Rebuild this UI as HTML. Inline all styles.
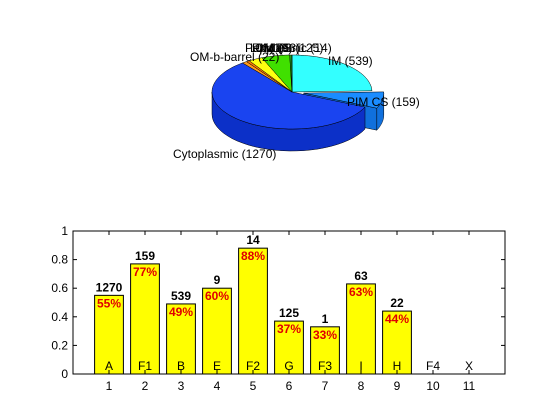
<!DOCTYPE html>
<html><head><meta charset="utf-8"><style>
body{margin:0;background:#fff;width:560px;height:420px;overflow:hidden}
svg{display:block;font-family:"Liberation Sans",sans-serif}
</style></head><body>
<svg id="s" width="560" height="420">
<rect width="560" height="420" fill="#fff"/>
<g id="pie"></g>
<g id="bars"></g>
</svg>
<script>
const pieLabels=["IM (539)","PIM CS (159)","Cytoplasmic (1270)","OM-b-barrel (22)","Periplasmic (14)","Lipid (63)","PIM FS (125)","OM (9)","X (1)"];
const pieValues=[539,159,1270,22,14,63,125,9,1];
const pieColors=["#33ffff","#1a8cff","#1a44f0","#ff9a1a","#ff7a00","#ffff10","#40e000","#20a020","#108010"];
const pieSide=["#22cccc","#1070dd","#0c30c8","#cc7a10","#cc6000","#cccc00","#30b000","#188018","#086008"];
const explode=[0,1,0,0,0,0,0,0,0];

const categories=["A","F1","B","E","F2","G","F3","I","H","F4","X"];
const barValues=[0.55,0.77,0.49,0.60,0.88,0.37,0.33,0.63,0.44,0,0];
const counts=["1270","159","539","9","14","125","1","63","22","",""];
const pctLabels=["55%","77%","49%","60%","88%","37%","33%","63%","44%","",""];
const yTicks=[0,0.2,0.4,0.6,0.8,1];
const yTickLabels=["0","0.2","0.4","0.6","0.8","1"];
const xTicks=[1,2,3,4,5,6,7,8,9,10,11];

const NS="http://www.w3.org/2000/svg";
function mk(t,a,p){const e=document.createElementNS(NS,t);for(const k in a)e.setAttribute(k,a[k]);p.appendChild(e);return e;}

// PIE
const pie=document.getElementById('pie');
const cx=292,cy=92,rx=80,ry=37,dep=22;
const total=pieValues.reduce((a,b)=>a+b,0);
const R=Math.PI/180;
function pt(a,ox,oy,dy){return [cx+ox+rx*Math.cos(a*R),cy+oy-ry*Math.sin(a*R)+(dy||0)];}
let ang=90;const sl=[];
pieValues.forEach((v,i)=>{const a1=ang,a2=ang-v/total*360;ang=a2;const m=(a1+a2)/2;
 const ox=explode[i]?12*Math.cos(m*R):0,oy=explode[i]?-12*ry/rx*Math.sin(m*R):0;sl.push({a1,a2,ox,oy,i});});
// sides
sl.forEach(s=>{const lo=Math.max(s.a2,-180),hi=Math.min(s.a1,0);if(hi<=lo)return;
 let d="";const n=30;
 for(let k=0;k<=n;k++){const a=hi-(hi-lo)*k/n;const p=pt(a,s.ox,s.oy);d+=(k?"L":"M")+p[0].toFixed(1)+","+p[1].toFixed(1);}
 for(let k=n;k>=0;k--){const a=hi-(hi-lo)*k/n;const p=pt(a,s.ox,s.oy,dep);d+="L"+p[0].toFixed(1)+","+p[1].toFixed(1);}
 const e=mk('path',{d:d+"Z",fill:pieSide[s.i],stroke:"#000","stroke-width":0.5},pie);
 
 
 if(explode[s.i]){const e2=mk('path',{d:`M${cx+s.ox},${cy+s.oy}L${pt(s.a2,s.ox,s.oy)}L${pt(s.a2,s.ox,s.oy,dep)}L${cx+s.ox},${cy+s.oy+dep}Z`,fill:pieSide[s.i],stroke:"#000","stroke-width":0.5},pie);
 
 }
});
sl.forEach(s=>{let d=`M${cx+s.ox},${cy+s.oy}`;const n=Math.max(2,Math.ceil((s.a1-s.a2)/3));
 for(let k=0;k<=n;k++){const a=s.a1-(s.a1-s.a2)*k/n;const p=pt(a,s.ox,s.oy);d+="L"+p[0].toFixed(1)+","+p[1].toFixed(1);}
 const e=mk('path',{d:d+"Z",fill:pieColors[s.i],stroke:"#000","stroke-width":0.5},pie);
 
 
});
const lp=[[328,65,"start"],[347,106,"start"],[173,158,"start"],[190,61,"start"],[245,52,"start"],[250,52,"start"],[252,52,"start"],[255,52,"start"],[258,52,"start"]];
pieLabels.forEach((t,i)=>{const e=mk('text',{x:lp[i][0],y:lp[i][1],"font-size":12,fill:"#000"},pie);e.textContent=t;
 
 });

// BARS
const g=document.getElementById('bars');
const X0=73,X1=505,Y0=374,Y1=231;
const xs=v=>X0+(X1-X0)*v/12, ys=v=>Y0-(Y0-Y1)*v;
const ax=mk('rect',{x:X0,y:Y1,width:X1-X0,height:Y0-Y1,fill:"#fff",stroke:"#000","stroke-width":1},g);


barValues.forEach((v,i)=>{const x=xs(i+1),w=(xs(1)-xs(0))*0.8;
 if(v>0){const b=mk('rect',{x:x-w/2,y:ys(v),width:w,height:ys(0)-ys(v),fill:"#ffff00",stroke:"#000","stroke-width":1},g);
 
 }
 const c=mk('text',{x:x,y:ys(v)-4,"font-size":12,"font-weight":"bold","text-anchor":"middle"},g);c.textContent=counts[i];
 
 
 const p=mk('text',{x:x,y:ys(v)+12,"font-size":12,"font-weight":"bold",fill:"#e00000","text-anchor":"middle"},g);p.textContent=pctLabels[i];
 
 
 const l=mk('text',{x:x,y:370,"font-size":12,"text-anchor":"middle"},g);l.textContent=categories[i];
 
 
});
yTicks.forEach((v,i)=>{const y=ys(v);
 mk('line',{x1:X0,x2:X0+4,y1:y,y2:y,stroke:"#000"},g);mk('line',{x1:X1,x2:X1-4,y1:y,y2:y,stroke:"#000"},g);
 const t=mk('text',{x:X0-5,y:y+4,"font-size":12,"text-anchor":"end"},g);t.textContent=yTickLabels[i];
 
 });
xTicks.forEach(v=>{const x=xs(v);
 mk('line',{x1:x,x2:x,y1:Y0,y2:Y0-4,stroke:"#000"},g);mk('line',{x1:x,x2:x,y1:Y1,y2:Y1+4,stroke:"#000"},g);
 const t=mk('text',{x:x,y:Y0+16,"font-size":12,"text-anchor":"middle"},g);t.textContent=v;
 
 });
</script>
</body></html>
